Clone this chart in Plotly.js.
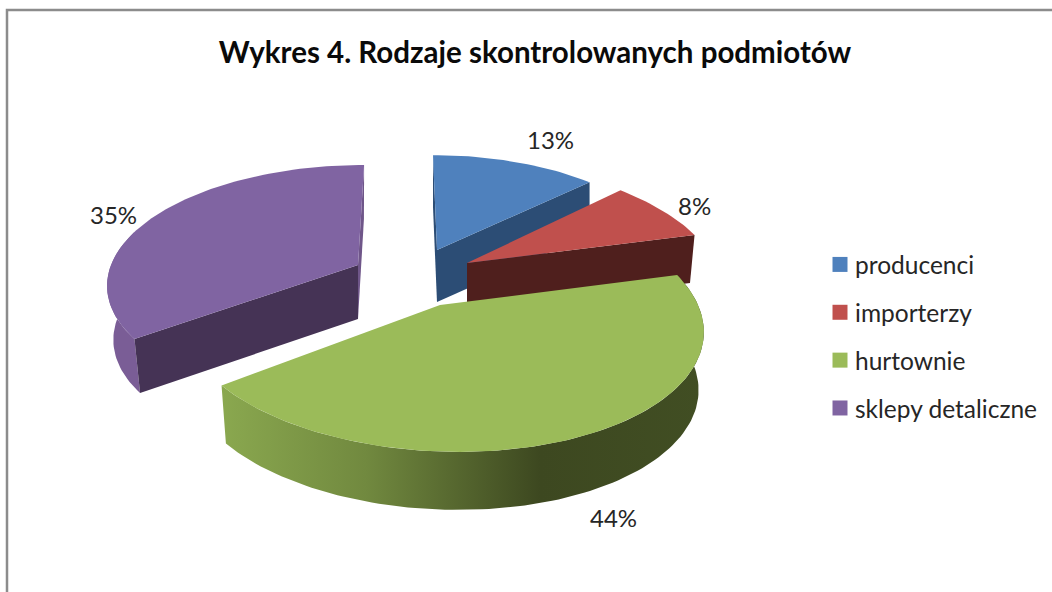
<!DOCTYPE html>
<html><head><meta charset="utf-8">
<script src="https://cdn.plot.ly/plotly-3.0.1.min.js"></script>
<style>html,body{margin:0;padding:0;background:#fff}#c{width:1052px;height:592px}</style>
</head><body><div id="c"></div>
<script>
const categories = ['producenci','importerzy','hurtownie','sklepy detaliczne'];
const shares = [13, 8, 44, 35];
const topColors = ['#4f81bd','#c0504d','#9bbb59','#8064a2'];
const cutColors = ['#2c4d75','#4f1f1d','#3f4a21','#453355'];
const chartTitle = 'Wykres 4. Rodzaje skontrolowanych podmiotów';

// Projection of each exploded slice (layout only)
const K = 0.149;
const geom = [
  {cx:437, cy:250, a:235, b:109, s:-4.6, d:52, sh:1},
  {cx:467, cy:263, a:248, b:117, s:-17,  d:48, sh:0.98},
  {cx:440, cy:305, a:258, b:125, s:-16,  d:58, sh:0.98},
  {cx:358, cy:265, a:247, b:115, s:7,    d:54, sh:0.975}
];
const labelPos = [[550,139],[694,205],[613,517],[113,214]];

const total = shares.reduce((p,c)=>p+c,0);
let cum = 0;
const wedges = shares.map(v=>{const w={from:cum/total*2*Math.PI,to:(cum+v)/total*2*Math.PI};cum+=v;return w;});

function pt(g,t,low){
  const u=Math.sin(t),v=Math.cos(t),w=1+K*v;
  let x=(g.a*u+g.s*v)/w, y=-g.b*v/w;
  if(low){x*=g.sh;y+=g.d;}
  return [g.cx+x,g.cy+y];
}
function arc(g,t0,t1,low){
  const n=Math.max(4,Math.ceil(Math.abs(t1-t0)*40)),out=[];
  for(let i=0;i<=n;i++)out.push(pt(g,t0+(t1-t0)*i/n,low));
  return out;
}
function poly(points,color,name,extra){
  const p=points.concat([points[0]]);
  return Object.assign({type:'scatter',mode:'lines',x:p.map(q=>q[0]),y:p.map(q=>q[1]),fill:'toself',
    fillcolor:color,line:{width:0,color:color},name:name,showlegend:false,hoverinfo:'skip'},extra||{});
}
function apex(g,low){return [g.cx,g.cy+(low?g.d:0)];}
function cutFace(g,t,c,n){return poly([apex(g,false),pt(g,t,false),pt(g,t,true),apex(g,true)],c,n);}
function topFace(g,w,c,n){return poly([apex(g,false)].concat(arc(g,w.from,w.to,false)),c,n);}
function wall(g,t0,t1,c,n,extra){return poly(arc(g,t0,t1,false).concat(arc(g,t1,t0,true)),c,n,extra);}

const traces=[];
// blue
traces.push(cutFace(geom[0],wedges[0].from,cutColors[0],categories[0]));
traces.push(cutFace(geom[0],wedges[0].to,cutColors[0],categories[0]));
traces.push(topFace(geom[0],wedges[0],topColors[0],categories[0]));
// purple
traces.push(wall(geom[3],wedges[3].from,1.5*Math.PI+0.3,'#7a5d96',categories[3]));
traces.push(cutFace(geom[3],wedges[3].to,'#6f5689',categories[3]));
traces.push(cutFace(geom[3],wedges[3].from,cutColors[3],categories[3]));
traces.push(topFace(geom[3],wedges[3],topColors[3],categories[3]));
// red
traces.push(cutFace(geom[1],wedges[1].to,cutColors[1],categories[1]));
traces.push(topFace(geom[1],wedges[1],topColors[1],categories[1]));
// green
traces.push(wall(geom[2],wedges[2].from,wedges[2].to,'#6b8238',categories[2],{
  fillgradient:{type:'horizontal',colorscale:[[0,'#8aa84f'],[0.3,'#71893f'],[0.66,'#3d4820'],[1,'#414e23']]}
}));
traces.push(topFace(geom[2],wedges[2],topColors[2],categories[2]));
// legend entries
categories.forEach((c,i)=>traces.push({type:'scatter',mode:'markers',x:[null],y:[null],name:c,legendgroup:c,
  marker:{symbol:'square',size:15,color:topColors[i]},hoverinfo:'skip',showlegend:true}));

const annotations=shares.map((v,i)=>({x:labelPos[i][0],y:labelPos[i][1],xref:'x',yref:'y',text:v+'%',showarrow:false,
  xanchor:'center',yanchor:'middle',font:{family:'Lato, sans-serif',size:24,color:'#262626'}}));

const layout={
  width:1052,height:592,margin:{l:0,r:0,t:0,b:0},paper_bgcolor:'#fff',plot_bgcolor:'#fff',
  title:{text:chartTitle,x:535/1052,xanchor:'center',y:1-53/592,yanchor:'middle',
    font:{family:'Lato, sans-serif',size:29.5,color:'#0a0a0a',weight:700}},
  xaxis:{range:[0,1052],visible:false,fixedrange:true},
  yaxis:{range:[592,0],visible:false,fixedrange:true},
  showlegend:true,
  legend:{x:815/1052,xanchor:'left',y:1-242/592,yanchor:'top',traceorder:'grouped',tracegroupgap:13,
    itemclick:false,itemdoubleclick:false,bgcolor:'rgba(0,0,0,0)',
    font:{family:'Lato, sans-serif',size:24.5,color:'#262626'}},
  annotations:annotations,
  shapes:[{type:'rect',xref:'x',yref:'y',x0:7,y0:10,x1:1070,y1:610,line:{color:'#8c8c8c',width:2.5},fillcolor:'rgba(0,0,0,0)',layer:'below'}]
};
Plotly.newPlot('c',traces,layout,{displayModeBar:false,staticPlot:true}).then(()=>{
  document.querySelectorAll('#c .legendsymbols').forEach(n=>n.setAttribute('transform','translate(5,0)'));
});
</script></body></html>
